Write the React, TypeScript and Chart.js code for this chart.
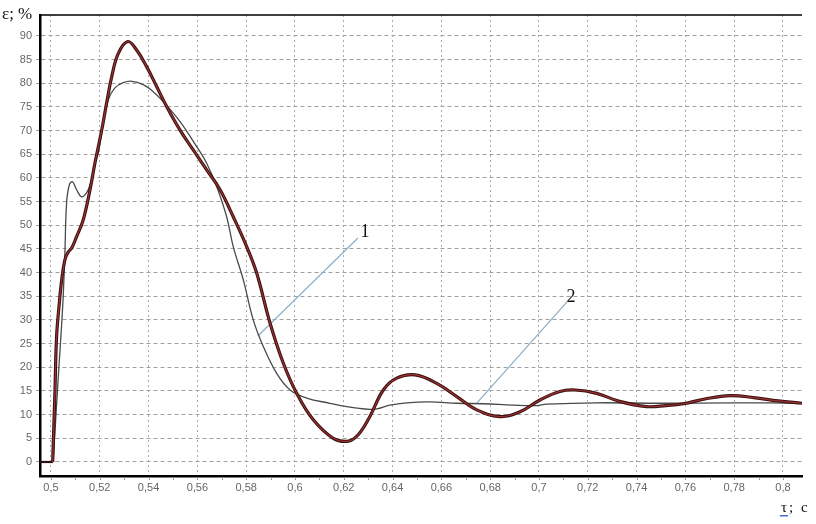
import { useEffect, useRef } from "react";
import { Chart, registerables } from "chart.js";

Chart.register(...registerables);

// Flat start segment shared by both curves
const flatX = [0.4955, 0.5008];
const flatY = [0, 0];

// Curve 1 (thin grey)
const curve1X = [0.5008, 0.501, 0.503, 0.5044, 0.505, 0.5057, 0.5064, 0.5075, 0.5088, 0.5105, 0.5125, 0.5145, 0.516, 0.518, 0.5195, 0.5214, 0.5235, 0.5262, 0.5296, 0.5331, 0.5378, 0.5419, 0.546, 0.5529, 0.5597, 0.5638, 0.5679, 0.572, 0.5747, 0.5788, 0.5829, 0.587, 0.5925, 0.598, 0.6048, 0.6143, 0.6212, 0.6307, 0.6335, 0.6389, 0.6458, 0.6553, 0.6663, 0.6772, 0.6895, 0.699, 0.7032, 0.7236, 0.75, 0.78, 0.8078];
const curve1Y = [0, 1.1, 18, 29.3, 34.9, 44.1, 54.7, 58.5, 59.2, 57.5, 56.0, 56.8, 58.5, 63.0, 65.5, 71.6, 76.5, 79.0, 80.1, 80.4, 79.7, 78.2, 76.1, 71.9, 66.6, 63.1, 58.2, 51.8, 45.5, 38.5, 30.0, 24.4, 18.7, 15.2, 13.5, 12.4, 11.7, 11.1, 11.2, 12.0, 12.5, 12.7, 12.4, 12.3, 12.0, 11.9, 12.2, 12.5, 12.4, 12.5, 12.4];

// Curve 2 (thick maroon)
const curve2X = [0.5007, 0.5016, 0.5023, 0.5034, 0.5044, 0.5057, 0.507, 0.5085, 0.5105, 0.5132, 0.516, 0.518, 0.5208, 0.5228, 0.5249, 0.5276, 0.5315, 0.5351, 0.5392, 0.5433, 0.5474, 0.5529, 0.5583, 0.5638, 0.5693, 0.5747, 0.5802, 0.5843, 0.5898, 0.5952, 0.6007, 0.6075, 0.6157, 0.6219, 0.626, 0.6307, 0.6362, 0.6417, 0.6492, 0.6581, 0.6663, 0.6745, 0.684, 0.6922, 0.7004, 0.7086, 0.7148, 0.7236, 0.733, 0.7441, 0.752, 0.7592, 0.768, 0.7783, 0.788, 0.798, 0.8078];
const curve2Y = [0, 14.5, 26.5, 33.5, 38.5, 42.7, 44.3, 45.2, 47.6, 51.1, 57.5, 63.1, 70.1, 75.8, 81.4, 86.3, 88.8, 87.0, 83.5, 79.3, 75.1, 70.1, 65.9, 61.7, 57.5, 51.8, 45.5, 39.9, 29.3, 20.9, 14.5, 8.9, 5.0, 4.4, 5.8, 9.6, 15.2, 17.7, 18.4, 16.6, 13.8, 11.0, 9.6, 10.6, 13.1, 14.9, 15.2, 14.5, 12.8, 11.7, 11.9, 12.3, 13.3, 14.0, 13.6, 12.9, 12.4];

// Callout leader lines and their labels
const leader1X = [0.5848, 0.6258];
const leader1Y = [26.6, 47.3];
const leader2X = [0.6746, 0.7115];
const leader2Y = [12.5, 33.8];
const calloutLabels = ["1", "2"];
const calloutX = [0.6287, 0.7131];
const calloutY = [48.6, 34.8];

// Ticks
const xTicks = [0.5, 0.52, 0.54, 0.56, 0.58, 0.6, 0.62, 0.64, 0.66, 0.68, 0.7, 0.72, 0.74, 0.76, 0.78, 0.8];
const xTickLabels = ["0,5", "0,52", "0,54", "0,56", "0,58", "0,6", "0,62", "0,64", "0,66", "0,68", "0,7", "0,72", "0,74", "0,76", "0,78", "0,8"];
const yTicks = [0, 5, 10, 15, 20, 25, 30, 35, 40, 45, 50, 55, 60, 65, 70, 75, 80, 85, 90];
const yAxisTitle = "ε; %";
const xAxisTitle = "τ; c";

const toPts = (xs: number[], ys: number[]) => xs.map((x, i) => ({ x, y: ys[i] }));

export default function App() {
  const ref = useRef<HTMLCanvasElement | null>(null);

  useEffect(() => {
    if (!ref.current) return;

    const decor = {
      id: "decor",
      afterDatasetsDraw(chart: any) {
        const { ctx, chartArea, scales } = chart;
        const xs = scales.x;
        const ys = scales.y;
        ctx.save();
        // top border
        ctx.strokeStyle = "#000";
        ctx.lineWidth = 1.5;
        ctx.beginPath();
        ctx.moveTo(chartArea.left, chartArea.top);
        ctx.lineTo(chartArea.right, chartArea.top);
        ctx.stroke();
        // minor ticks under x axis
        ctx.strokeStyle = "#999";
        ctx.lineWidth = 1;
        for (let i = 50; i <= 80; i++) {
          const px = Math.round(xs.getPixelForValue(i / 100)) + 0.5;
          ctx.beginPath();
          ctx.moveTo(px, chartArea.bottom + 1);
          ctx.lineTo(px, chartArea.bottom + 4);
          ctx.stroke();
        }
        // callout labels
        ctx.fillStyle = "#111";
        ctx.font = '18px "Liberation Serif"';
        ctx.textAlign = "center";
        ctx.textBaseline = "middle";
        calloutLabels.forEach((t, i) => {
          ctx.fillText(t, xs.getPixelForValue(calloutX[i]), ys.getPixelForValue(calloutY[i]));
        });
        // axis titles
        ctx.textAlign = "left";
        ctx.textBaseline = "alphabetic";
        ctx.font = '17px "Liberation Serif"';
        ctx.fillText(yAxisTitle, 2, 19);
        ctx.font = '15px "Liberation Serif"';
        (ctx as any).letterSpacing = "2px";
        ctx.fillText(xAxisTitle, 781, 512);
        (ctx as any).letterSpacing = "0px";
        // wavy underline under tau
        ctx.strokeStyle = "#3355cc";
        ctx.lineWidth = 1;
        ctx.beginPath();
        for (let k = 0; k <= 8; k++) {
          const wx = 780 + k;
          const wy = 515 + (k % 2 === 0 ? 0 : 1.5);
          if (k === 0) ctx.moveTo(wx, wy);
          else ctx.lineTo(wx, wy);
        }
        ctx.stroke();
        ctx.restore();
      },
    };

    const thickInner = { borderColor: "#9a3232", borderWidth: 1.2, pointRadius: 0, tension: 0.4 };
    const thickOuter = { borderColor: "#3a1010", borderWidth: 3.2, pointRadius: 0, tension: 0.4 };

    const chart = new Chart(ref.current, {
      type: "line",
      data: {
        datasets: [
          { data: toPts(curve2X, curve2Y), ...thickInner },
          { data: toPts(curve2X, curve2Y), ...thickOuter },
          { data: toPts(flatX, flatY), borderColor: "#2a1010", borderWidth: 2.2, pointRadius: 0, tension: 0 },
          {
            data: toPts(curve1X, curve1Y),
            borderColor: "#4a4a4a",
            borderWidth: 1.3,
            pointRadius: 0,
            tension: 0.4,
          },
          {
            data: toPts(leader1X, leader1Y),
            borderColor: "#8aaec8",
            borderWidth: 1.2,
            pointRadius: 0,
            tension: 0,
          },
          {
            data: toPts(leader2X, leader2Y),
            borderColor: "#8aaec8",
            borderWidth: 1.2,
            pointRadius: 0,
            tension: 0,
          },
        ],
      },
      options: {
        animation: false,
        responsive: false,
        devicePixelRatio: 1,
        layout: { padding: { top: 15, right: 14, left: 0, bottom: 0 } },
        plugins: { legend: { display: false }, tooltip: { enabled: false } },
        scales: {
          x: {
            type: "linear",
            min: 0.4955,
            max: 0.8078,
            afterBuildTicks: (s: any) => {
              s.ticks = xTicks.map((v) => ({ value: v }));
            },
            afterFit: (s: any) => {
              s.height = 48;
            },
            ticks: {
              autoSkip: false,
              maxRotation: 0,
              padding: 5,
              color: "#666",
              font: { family: '"Liberation Sans"', size: 11 },
              callback: (_v: any, i: number) => xTickLabels[i],
            },
            grid: { color: "#ababab", lineWidth: 1, drawTicks: false },
            border: { display: true, color: "#000", width: 2.5, dash: [2, 3] },
          },
          y: {
            min: -2.96,
            max: 94.4,
            afterBuildTicks: (s: any) => {
              s.ticks = yTicks.map((v) => ({ value: v }));
            },
            afterFit: (s: any) => {
              s.width = 40;
            },
            ticks: {
              padding: 4,
              color: "#666",
              font: { family: '"Liberation Sans"', size: 11 },
              callback: (v: any) => String(v),
            },
            grid: { color: "#9f9f9f", lineWidth: 1, tickLength: 4 },
            border: { display: true, color: "#000", width: 2.5, dash: [4, 3] },
          },
        },
      },
      plugins: [decor],
    });

    return () => chart.destroy();
  }, []);

  return (
    <div style={{ position: "absolute", left: 0, top: 0, width: 816, height: 524, background: "#fff" }}>
      <canvas ref={ref} width={816} height={524} style={{ display: "block" }} />
    </div>
  );
}
